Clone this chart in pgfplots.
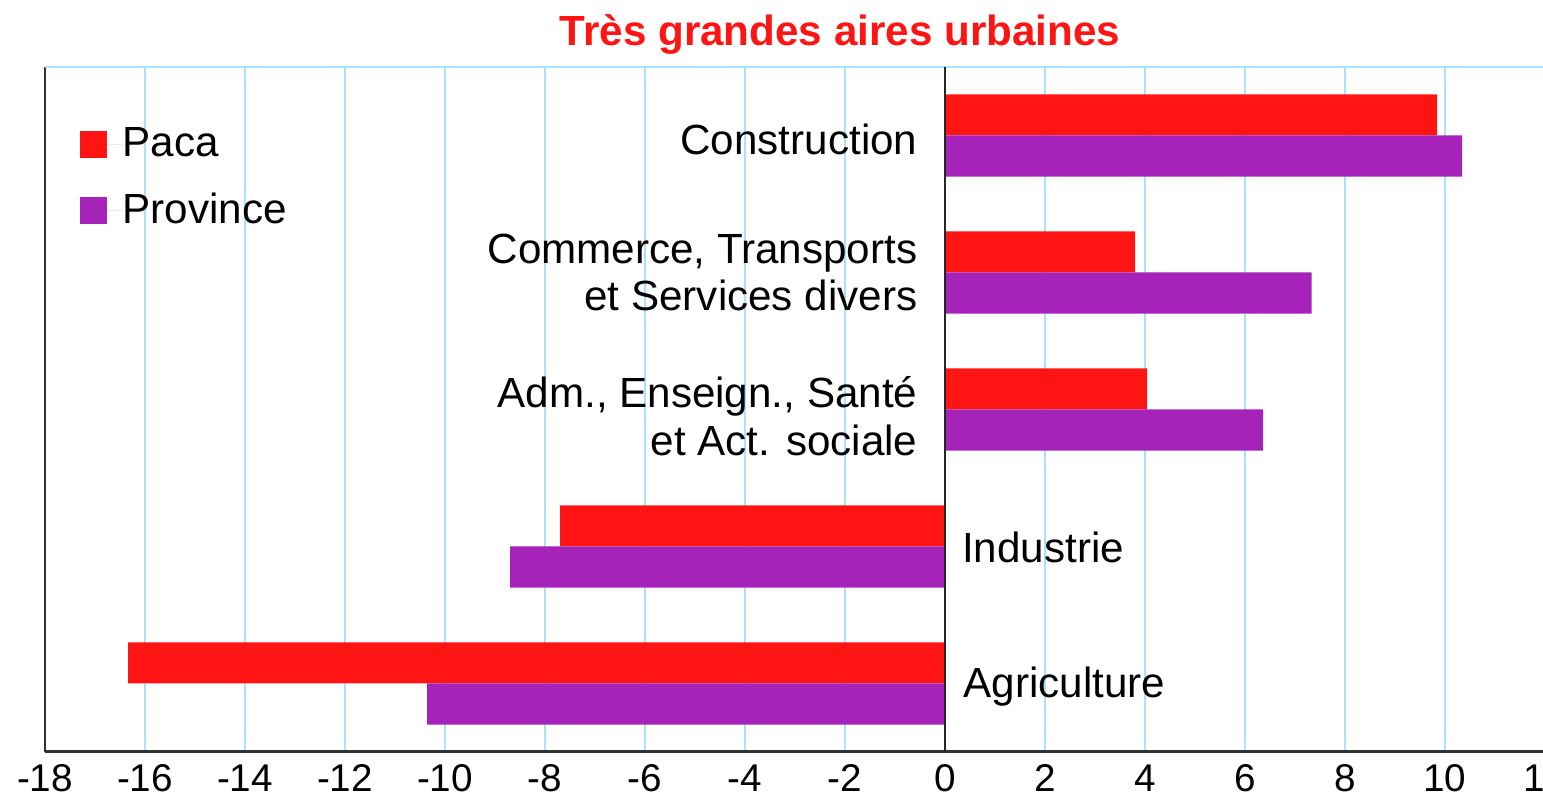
\documentclass[border=0pt]{standalone}
\usepackage{fontspec}
\setmainfont{Liberation Sans}
\usepackage{pgfplots}
\pgfplotsset{compat=1.18}
\definecolor{paca}{RGB}{255,20,20}
\definecolor{prov}{RGB}{165,35,185}
\definecolor{gridblue}{RGB}{170,225,255}

\begin{document}
\begin{tikzpicture}
\useasboundingbox (-4.5mm,-4.8mm) rectangle (149.8mm,75.2mm);
\begin{axis}[
    at={(0,0)}, anchor=south west,
    scale only axis, width=150mm, height=68.5mm,
    clip=false,
    xbar, bar width=0.3,
    xmin=-18, xmax=12, ymin=-0.5, ymax=4.5,
    xtick={-18,-16,...,12},
    ytick=\empty,
    axis lines=left, axis line style={-},
    x axis line style={line width=0.3mm, black!80},
    y axis line style={line width=0.2mm, black!80},
    xmajorgrids, major grid style={gridblue, line width=0.2mm},
    major tick length=0pt,
    tick label style={font=\fontsize{11}{13}\selectfont},
    /pgf/number format/assume math mode=true,
    legend style={at={(0.0227,0.838)}, anchor=west, draw=none, fill=none,
        inner sep=0pt, row sep=9pt,
        font=\fontsize{12}{14}\selectfont,
        nodes={inner sep=0pt}},
    legend cell align=left,
    legend image code/.code={\fill[#1] (0mm,-1.35mm) rectangle (2.7mm,1.35mm); \path (0mm,0mm) -- (4.3mm,0mm);},
]
\addplot[fill=paca, draw=none, bar shift=0.15] coordinates {
    (9.84,4) (3.8,3) (4.04,2) (-7.7,1) (-16.34,0)};
\addplot[fill=prov, draw=none, bar shift=-0.15] coordinates {
    (10.34,4) (7.33,3) (6.36,2) (-8.7,1) (-10.36,0)};
\legend{Paca, Province}

\draw[gridblue, line width=0.2mm] (rel axis cs:0,1) -- (rel axis cs:1,1);
\draw[black!85, line width=0.15mm] (axis cs:0,-0.5) -- (axis cs:0,4.5);

\node[anchor=base, yshift=2.1mm, inner sep=0pt, text=paca,
    font=\fontsize{12}{14}\selectfont\bfseries] at (rel axis cs:0.53,1) {Très grandes aires urbaines};

\begin{scope}[every node/.style={inner sep=0pt, font=\fontsize{12}{13.6}\selectfont}]
\node[anchor=east, align=right] at (axis cs:-0.54,3.97) {Construction};
\node[anchor=east, align=right] at (axis cs:-0.54,3.0) {Commerce, Transports\\et Services divers};
\node[anchor=east, align=right] at (axis cs:-0.54,1.95) {Adm., Enseign., Santé\\et Act. sociale};
\node[anchor=west] at (axis cs:0.33,0.99) {Industrie};
\node[anchor=west] at (axis cs:0.36,-0.02) {Agriculture};
\end{scope}
\end{axis}
\end{tikzpicture}
\end{document}
